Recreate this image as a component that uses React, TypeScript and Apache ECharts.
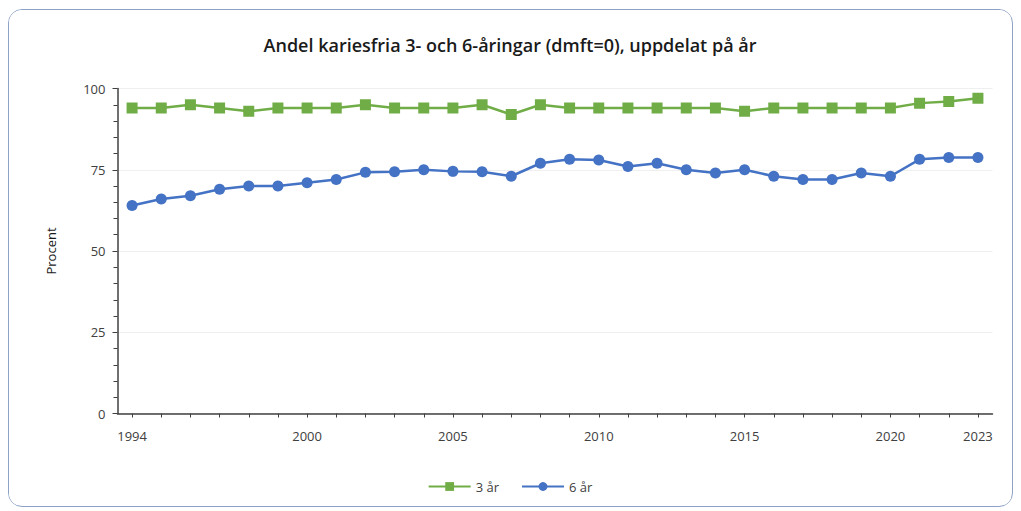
import React, { useEffect, useRef } from "react";
import * as echarts from "echarts";

const years: string[] = [];
for (let y = 1994; y <= 2023; y++) years.push(String(y));
const labeledYears = ["1994", "2000", "2005", "2010", "2015", "2020", "2023"];
const age3 = [94, 94, 95, 94, 93, 94, 94, 94, 95, 94, 94, 94, 95, 92, 95, 94, 94, 94, 94, 94, 94, 93, 94, 94, 94, 94, 94, 95.5, 96, 97];
const age6 = [64, 66, 67, 69, 70, 70, 71, 72, 74.2, 74.4, 75, 74.5, 74.4, 73, 77, 78.2, 78, 76, 77, 75, 74, 75, 73, 72, 72, 74, 73, 78.2, 78.8, 78.8];
const yTicks = [0, 25, 50, 75, 100];

export default function App() {
  const ref = useRef<HTMLDivElement>(null);
  useEffect(() => {
    if (!ref.current) return;
    const chart = echarts.init(ref.current, undefined, { renderer: "svg" });
    const font = "'Open Sans', 'Noto Sans', sans-serif";
    chart.setOption({
      animation: false,
      backgroundColor: "#ffffff",
      title: {
        text: "Andel kariesfria 3- och 6-åringar (dmft=0), uppdelat på år",
        left: "center",
        top: 21,
        textStyle: { fontFamily: font, fontSize: 18, fontWeight: 600, color: "#1a1a1a" },
      },
      legend: {
        bottom: 7,
        left: "center",
        itemWidth: 42,
        itemHeight: 11,
        itemGap: 22,
        textStyle: { fontFamily: font, fontSize: 13, color: "#404040" },
        data: ["3 år", "6 år"],
      },
      grid: { left: 108.5, right: 18.5, top: 78.5, bottom: 91.5 },
      xAxis: {
        type: "category",
        data: years,
        boundaryGap: true,
        axisLine: { lineStyle: { color: "#404040", width: 1.5 } },
        axisTick: { show: true, interval: 0, alignWithLabel: true, length: 4, lineStyle: { color: "#404040" } },
        axisLabel: {
          interval: (_i: number, v: string) => labeledYears.includes(v),
          fontFamily: font,
          fontSize: 13,
          color: "#404040",
          margin: 16,
        },
        splitLine: { show: false },
      },
      yAxis: {
        type: "value",
        min: yTicks[0],
        max: yTicks[yTicks.length - 1],
        interval: 25,
        name: "Procent",
        nameLocation: "middle",
        nameGap: 60,
        nameRotate: 90,
        nameTextStyle: { fontFamily: font, fontSize: 13, color: "#1a1a1a" },
        axisLine: { show: true, lineStyle: { color: "#404040", width: 1.5 } },
        axisTick: { show: true, length: 5, lineStyle: { color: "#404040" } },
        minorTick: { show: true, splitNumber: 5, length: 4, lineStyle: { color: "#404040" } },
        axisLabel: { fontFamily: font, fontSize: 13, color: "#404040", margin: 12 },
        splitLine: { show: true, lineStyle: { color: "#efefef", width: 1 } },
      },
      series: [
        {
          name: "3 år",
          type: "line",
          data: age3,
          symbol: "rect",
          symbolSize: 11,
          lineStyle: { color: "#70AD47", width: 2.5 },
          itemStyle: { color: "#70AD47" },
        },
        {
          name: "6 år",
          type: "line",
          data: age6,
          symbol: "circle",
          symbolSize: 11,
          lineStyle: { color: "#4472C4", width: 2.5 },
          itemStyle: { color: "#4472C4" },
        },
      ],
    });
    return () => chart.dispose();
  }, []);
  return (
    <div
      style={{
        position: "relative",
        width: 1005,
        height: 498,
        marginTop: 1,
        border: "1.5px solid #8EA2C6",
        borderRadius: 14,
        overflow: "hidden",
        boxSizing: "border-box",
        background: "#fff",
      }}
    >
      <div ref={ref} style={{ width: 1002, height: 495 }} />
    </div>
  );
}
